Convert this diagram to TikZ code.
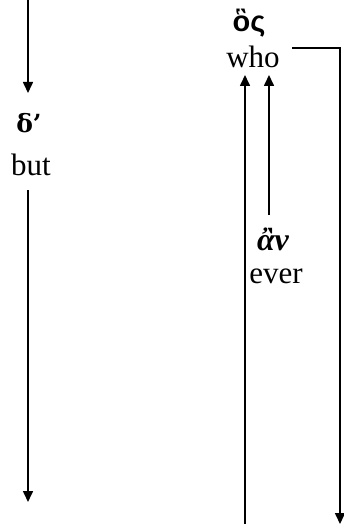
\documentclass[tikz,border=0pt]{standalone}
\usepackage{fontspec}
\setmainfont{Liberation Serif}
\newfontfamily\grsans{Liberation Sans}
\newfontfamily\grserif{DejaVu Serif}
\usetikzlibrary{arrows.meta}
\begin{document}
\begin{tikzpicture}[x=1pt,y=-1pt,
  lbl/.style={inner sep=0pt,anchor=base,font=\fontsize{31}{31}\selectfont},
  grk/.style={inner sep=0pt,anchor=base,font=\fontsize{30}{30}\selectfont\bfseries},
  conn/.style={line width=1.6pt},
  arr/.style={conn,-{Triangle[width=10pt,length=11pt]}}]
\useasboundingbox (0,0) rectangle (343,524);
% texts
\node[grk,font=\fontsize{25}{25}\selectfont\grserif\bfseries] (de) at (29,132) {δ’};
\node[lbl] (but) at (31,175) {but};
\node[grk,font=\fontsize{29}{29}\selectfont\grsans\bfseries] (hos) at (249,32) {ὃς};
\node[lbl] (who) at (253,68) {who};
\node[grk,font=\fontsize{32}{32}\selectfont\bfseries\itshape] (an) at (273,250) {ἂν};
\node[lbl] (ever) at (276,283) {ever};
% connector ends
\coordinate (l1s) at (28,0);
\coordinate (l1e) at (28,93);
\coordinate (l2s) at (28,190);
\coordinate (l2e) at (28,502);
\coordinate (r1a) at (292,48);
\coordinate (r1b) at (340,48);
\coordinate (r1e) at (340,524);
\coordinate (u1s) at (245,524);
\coordinate (u1e) at (245,75);
\coordinate (u2s) at (269,215);
\coordinate (u2e) at (269,75);
% connectors
\draw[arr] (l1s) -- (l1e);
\draw[arr] (l2s) -- (l2e);
\draw[arr] (r1a) -- (r1b) -- (r1e);
\draw[arr] (u1s) -- (u1e);
\draw[arr] (u2s) -- (u2e);
\end{tikzpicture}
\end{document}
